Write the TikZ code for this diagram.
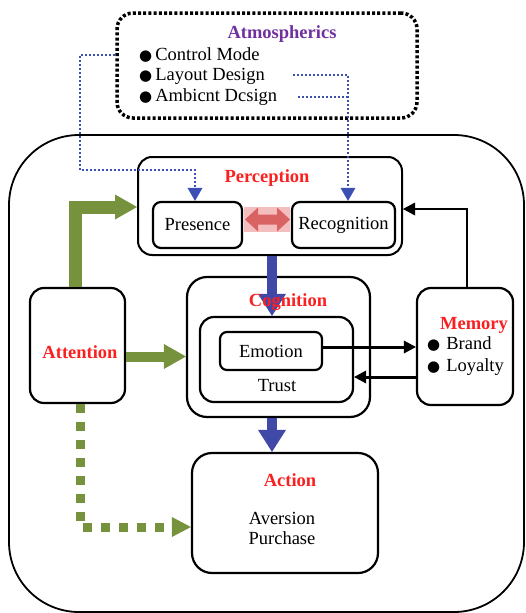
\documentclass[tikz,border=0pt]{standalone}
\usepackage{fontspec}
\setmainfont{Liberation Serif}
\newfontfamily\symfont{DejaVu Sans}
\usetikzlibrary{arrows.meta}
\definecolor{tred}{RGB}{250,32,32}
\definecolor{tpurple}{RGB}{112,48,160}
\definecolor{tgreen}{RGB}{118,146,60}
\definecolor{tblue}{RGB}{64,72,168}
\definecolor{dblue}{RGB}{60,80,180}
\definecolor{dred}{RGB}{214,88,88}
\definecolor{pinkbg}{RGB}{245,190,190}
\newcommand\bul{{\symfont\fontsize{15}{15}\selectfont ●}}
\begin{document}
\begin{tikzpicture}[x=1pt,y=-1pt,
  every node/.style={font=\fontsize{18.5}{21}\selectfont, inner sep=0pt},
  box/.style={draw, line width=2.2pt, rounded corners=#1},
  box/.default=14pt,
  title/.style={font=\fontsize{18.5}{21}\selectfont\bfseries, text=tred},
  bdot/.style={draw=dblue, line width=2pt, dash pattern=on 2pt off 2pt,
     -{Triangle[width=15pt,length=13pt,line width=0pt]}},
  bline/.style={draw=dblue, line width=2pt, dash pattern=on 2pt off 2pt},
  bigblue/.style={draw=tblue, line width=10pt,
     -{Triangle[width=28pt,length=22pt,line width=0pt]}},
  greenarrow/.style={draw=tgreen, line width=#1, line join=miter,
     -{Triangle[width=25pt,length=22pt,line width=0pt]}},
  blk/.style={draw=black, line width=#1,
     -{Triangle[width=13pt,length=12pt,line width=0pt]}},
]
\useasboundingbox (0,0) rectangle (526,613);

% outer frame
\node[box=70pt, line width=1.8pt, minimum width=515pt, minimum height=477pt] (outer) at (266.5,373.5) {};

% atmospherics
\node[draw, line width=3.5pt, dash pattern=on 3pt off 2.2pt, rounded corners=16pt,
      minimum width=300pt, minimum height=105pt] (atm) at (267,65.5) {};
\node[font=\fontsize{18.5}{21}\selectfont\bfseries, text=tpurple] (atmt) at (282,34) {Atmospherics};
\node[anchor=west] (cm) at (139,55) {\bul\,Control Mode};
\node[anchor=west] (ld) at (139,76) {\bul\,Layout Design};
\node[anchor=west] (ad) at (139,97) {\bul\,Ambicnt Dcsign};

% perception
\node[box, line width=2pt, minimum width=264pt, minimum height=98pt] (perc) at (270,206) {};
\node[title] (perct) at (267,178) {Perception};
\node[box=8pt, minimum width=89pt, minimum height=46pt] (pres) at (197.5,225) {Presence};
\node[box=8pt, minimum width=103pt, minimum height=46pt] (recog) at (343.5,225) {Recognition};

% cognition
\node[box=20pt, minimum width=183pt, minimum height=140pt] (cog) at (278.5,347) {};
\node[box=14pt, minimum width=153pt, minimum height=85pt] (trust) at (276.5,359.5) {};
\node (trustt) at (277,386) {Trust};
\node[box=7pt, minimum width=102pt, minimum height=38pt] (emo) at (271,351) {Emotion};

% attention
\node[box, minimum width=95pt, minimum height=115pt] (att) at (77.5,345.5) {};
\node[title] (attt) at (80,352) {Attention};

% memory
\node[box, minimum width=96pt, minimum height=117pt] (mem) at (465,346.5) {};
\node[title] (memt) at (474,325) {Memory};
\node[anchor=west] (br) at (427,344) {\bul\hspace{6pt}Brand};
\node[anchor=west] (lo) at (427,367) {\bul\hspace{6pt}Loyalty};

% action
\node[box=20pt, minimum width=186pt, minimum height=120pt] (act) at (285,513) {};
\node[title] (actt) at (290,480) {Action};
\node[align=center, font=\fontsize{18.5}{20}\selectfont] (actb) at (282,528) {Aversion\\Purchase};

% blue dotted connectors
\coordinate (l1) at (293,75);
\coordinate (a1) at (298,97);
\coordinate (rt) at ([xshift=4.5pt]recog.north);
\draw[bdot] (atm.west |- cm) -| (80,170) -| ([xshift=-2.5pt]pres.north);
\draw[bdot] (l1) -| (rt);
\draw[bline] (a1) -- (a1 -| rt);

% red double arrow
\fill[pinkbg] ([xshift=1pt]pres.east |- 0,207) rectangle ([xshift=-1pt]recog.west |- 0,232);
\fill[dred, opacity=0.9] (245,219.5) -- (258,207.5) -- (258,214.5) -- (277,214.5) -- (277,207.5)
  -- (290,219.5) -- (277,231.5) -- (277,224.5) -- (258,224.5) -- (258,231.5) -- cycle;

% big blue arrows
\draw[bigblue] ([xshift=2pt]perc.south) -- ([xshift=2pt]perc.south |- trust.north);
\draw[bigblue] ([xshift=-6.5pt]cog.south) -- ([xshift=-6.5pt]cog.south |- act.north);
\node[title] (cogt) at (288,302) {Cognition};

% green arrows
\draw[greenarrow=13pt] ([xshift=-2.5pt]att.north) |- ([yshift=-1pt]perc.west);
\draw[greenarrow=10pt] ([yshift=-11pt]att.east) -- ([yshift=-11pt]att.east -| cog.west);
\draw[draw=tgreen, line width=9pt, dash pattern=on 9pt off 9pt,
      -{Triangle[width=20pt,length=19pt,line width=0pt]}]
      ([xshift=2.5pt]att.south) |- ([yshift=-14pt]act.west);

% black arrows
\draw[blk=3pt] ([yshift=4pt]emo.east) -- ([yshift=4pt]emo.east -| mem.west);
\draw[blk=3pt] ([yshift=-30.5pt]mem.west) -- ([yshift=-30.5pt]mem.west -| trust.east);
\draw[blk=2.5pt] ([xshift=2pt]mem.north) |- ([yshift=-3pt]perc.east);
\end{tikzpicture}
\end{document}
